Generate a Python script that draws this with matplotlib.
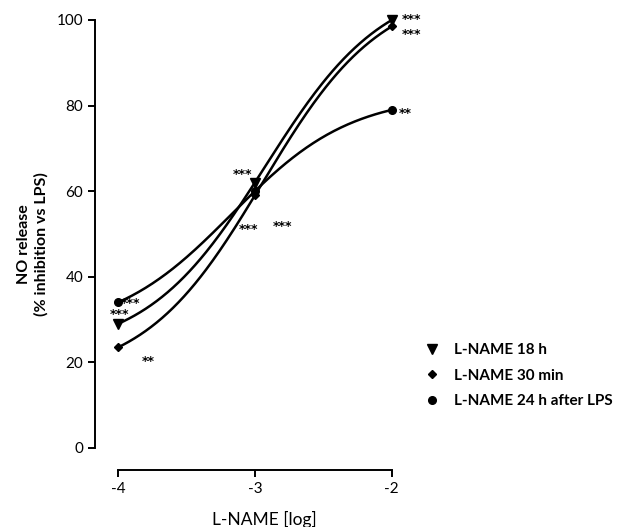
import numpy as np
import matplotlib
matplotlib.use('Agg')
import matplotlib.pyplot as plt

plt.rcParams['font.family'] = ['Lato', 'DejaVu Sans']

dose = np.array([-4, -3, -2])
nl_18h = np.array([29.0, 62.0, 100.0])
nl_30min = np.array([23.5, 59.0, 98.5])
nl_24h = np.array([34.0, 60.0, 79.0])

labels = ['L-NAME 18 h', 'L-NAME 30 min', 'L-NAME 24 h after LPS']
markers = ['v', 'D', 'o']
msizes = [6.5, 4.5, 5.5]

# significance stars: (x, y, text)
stars = [(-1.93, 100.0, '***'), (-1.93, 96.7, '***'), (-1.95, 78.1, '**'),
         (-3.16, 64.0, '***'), (-3.12, 51.0, '***'), (-2.87, 51.8, '***'),
         (-3.98, 33.7, '***'), (-4.06, 31.3, '***'), (-3.83, 20.3, '**')]


def fit_curve(x, y):
    # log(agonist) vs response, hill slope 1: grid over EC50, lstsq for bottom/top
    best = None
    for c in np.linspace(-6, 0, 3001):
        u = 1 / (1 + 10 ** (c - x))
        A = np.column_stack([1 - u, u])
        coef, *_ = np.linalg.lstsq(A, y, rcond=None)
        res = np.sum((A @ coef - y) ** 2)
        if best is None or res < best[0]:
            best = (res, c, coef)
    _, c, (b, t) = best
    xs = np.linspace(-4, -2, 200)
    return xs, b + (t - b) / (1 + 10 ** (c - xs))


fig = plt.figure(figsize=(6.2, 5.27), dpi=100)
ax = fig.add_axes([0.1532, 0.1082, 0.545, 0.858])

handles = []
for ys, m, ms, lab in zip([nl_18h, nl_30min, nl_24h], markers, msizes, labels):
    xs, yc = fit_curve(dose, ys)
    ax.plot(xs, yc, color='black', lw=1.8, clip_on=False)
    h, = ax.plot(dose, ys, ls='none', marker=m, ms=ms, color='black', label=lab, clip_on=False)
    handles.append(h)

for sx, sy, s in stars:
    ax.text(sx, sy, s, fontsize=9, fontweight='bold', ha='left', va='center',
            family='DejaVu Sans')

ax.set_xlim(-4.168, -1.7)
ax.set_ylim(-5.14, 100.5)
ax.set_yticks([0, 20, 40, 60, 80, 100])
ax.set_xticks([-4, -3, -2])
ax.set_xticklabels(['-4', '-3', '-2'])
for sp in ['top', 'right']:
    ax.spines[sp].set_visible(False)
ax.spines['left'].set_bounds(0, 100)
ax.spines['bottom'].set_bounds(-4, -2)
ax.spines['left'].set_linewidth(1.4)
ax.spines['bottom'].set_linewidth(1.4)
ax.tick_params(width=1.4, length=5, labelsize=11)

ax.set_ylabel('NO release\n(% inhibition vs LPS)', fontsize=11.5, fontweight='bold', labelpad=6)
ax.set_xlabel('L-NAME [log]', fontsize=12.5, labelpad=11)

ax.legend(handles=handles, loc='upper left', bbox_to_anchor=(0.665, 0.375),
          bbox_transform=fig.transFigure, frameon=False, handlelength=0.8,
          handletextpad=1.0, labelspacing=0.75, prop={'weight': 'bold', 'size': 11})

fig.savefig('out.png', dpi=100)
